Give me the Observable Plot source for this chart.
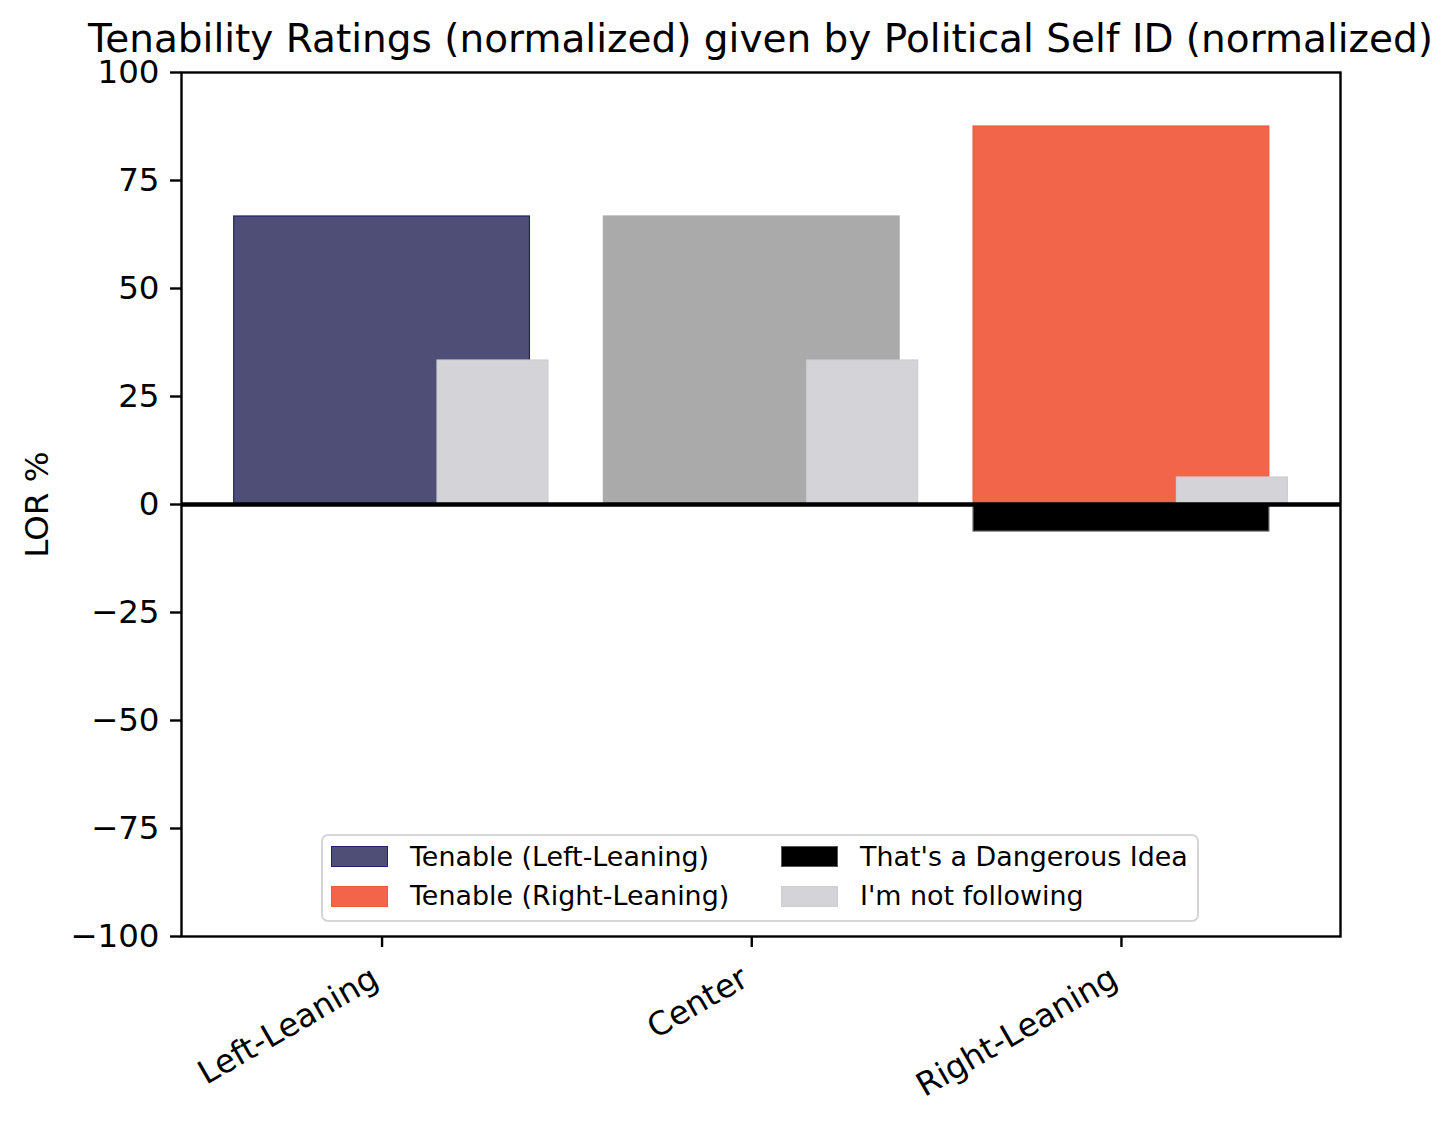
<!DOCTYPE html>
<html>
<head>
<meta charset="utf-8">
<script src="https://cdn.jsdelivr.net/npm/d3@7"></script>
<script src="https://cdn.jsdelivr.net/npm/@observablehq/plot@0.6"></script>
<style>
  html, body { margin: 0; padding: 0; background: white; }
  #wrap { position: relative; width: 1456px; height: 1123px; font-family: "DejaVu Sans", sans-serif; color: black; }
  #title { position: absolute; left: 0; width: 1521px; top: 24px; height: 30px; text-align: center; font-size: 39px; line-height: 30px; white-space: nowrap; }
  #legend { position: absolute; left: 321px; top: 834px; width: 878px; height: 88px; box-sizing: border-box;
            border: 2px solid #d6d6d6; border-radius: 7px; background: rgba(255,255,255,0.8); }
  .item { position: absolute; display: flex; align-items: center; height: 21px; }
  .sw { width: 57px; height: 21px; box-sizing: border-box; margin-right: 22px; }
  .lt { font-size: 26.9px; line-height: 30px; white-space: nowrap; }
</style>
</head>
<body>
<div id="wrap">
  <div id="chart"></div>
  <div id="title"></div>
  <div id="legend"></div>
</div>
<script>
// ---- data ----
const title = "Tenability Ratings (normalized) given by Political Self ID (normalized)";
const yLabel = "LOR %";
const categories = ["Left-Leaning", "Center", "Right-Leaning"];
const tenable = [66.67, 66.67, 87.5];
const dangerous = [0, 0, -6.25];
const notFollowing = [33.33, 33.33, 6.25];
const yTicks = [-100, -75, -50, -25, 0, 25, 50, 75, 100];
const legendLabels = ["Tenable (Left-Leaning)", "Tenable (Right-Leaning)", "That's a Dangerous Idea", "I'm not following"];

// ---- styles ----
const tenableFill = ["#4e4e76", "#aaaaaa", "#f2654b"];
const tenableStroke = ["#22226a", "#aaaaaa", "#f05a3e"];
const dangerFill = "#000000", dangerStroke = "#555555";
const notFill = "#d3d3d8", notStroke = "#cdcdd3";
const legendFill = ["#4e4e76", "#f2654b", "#000000", "#d3d3d8"];
const legendStroke = ["#22226a", "#f05a3e", "#555555", "#cdcdd3"];
const mainHalf = 0.4, smallLo = 0.15, smallHi = 0.45;
const fs = 32.5;

const idx = categories.map((_, i) => i);
const mainBars = idx.map(i => ({x1: i - mainHalf, x2: i + mainHalf, v: tenable[i], fill: tenableFill[i], stroke: tenableStroke[i]}));
const dangerBars = idx.filter(i => dangerous[i] !== 0).map(i => ({x1: i - mainHalf, x2: i + mainHalf, v: dangerous[i]}));
const notBars = idx.map(i => ({x1: i + smallLo, x2: i + smallHi, v: notFollowing[i]}));

const lo = -mainHalf, hi = categories.length - 1 + smallHi, pad = 0.05 * (hi - lo);

const chart = Plot.plot({
  width: 1456,
  height: 1123,
  marginLeft: 181,
  marginRight: 116,
  marginTop: 72,
  marginBottom: 187,
  style: {fontFamily: "DejaVu Sans", fontSize: fs + "px", color: "black", background: "transparent", overflow: "visible"},
  x: {type: "linear", domain: [lo - pad, hi + pad]},
  y: {domain: [-100, 100]},
  marks: [
    Plot.rect(mainBars, {x1: "x1", x2: "x2", y1: 0, y2: "v", fill: d => d.fill, stroke: d => d.stroke, strokeWidth: 1.2}),
    Plot.rect(dangerBars, {x1: "x1", x2: "x2", y1: 0, y2: "v", fill: dangerFill, stroke: dangerStroke, strokeWidth: 1.2}),
    Plot.rect(notBars, {x1: "x1", x2: "x2", y1: 0, y2: "v", fill: notFill, stroke: notStroke, strokeWidth: 1.2}),
    Plot.ruleY([0], {stroke: "black", strokeWidth: 4.3}),
    Plot.frame({stroke: "black", strokeWidth: 2.4}),
    Plot.axisY({ticks: yTicks, tickSize: 11, tickPadding: 11, label: null, fontSize: fs, strokeWidth: 2.4, fill: "black", stroke: "black"}),
    Plot.axisX({ticks: idx, tickSize: 11, tickFormat: () => "", label: null, strokeWidth: 2.4, stroke: "black"}),
    Plot.text(idx, {x: d => d, text: d => categories[d], frameAnchor: "bottom", dx: -13, dy: 28, rotate: -30,
                    textAnchor: "end", lineAnchor: "top", fontSize: fs, fill: "black"}),
    Plot.text([yLabel], {frameAnchor: "left", dx: -144, rotate: -90, textAnchor: "middle", lineAnchor: "middle", fontSize: fs, fill: "black"})
  ]
});
document.getElementById("chart").appendChild(chart);
document.getElementById("title").textContent = title;

const legend = document.getElementById("legend");
legendLabels.forEach((lab, i) => {
  const col = Math.floor(i / 2), row = i % 2;
  const item = document.createElement("div");
  item.className = "item";
  item.style.left = (8 + col * 450) + "px";
  item.style.top = (10 + row * 39.5) + "px";
  const sw = document.createElement("div");
  sw.className = "sw";
  sw.style.background = legendFill[i];
  sw.style.border = "1px solid " + legendStroke[i];
  const t = document.createElement("span");
  t.className = "lt";
  t.textContent = lab;
  item.appendChild(sw);
  item.appendChild(t);
  legend.appendChild(item);
});
</script>
</body>
</html>
